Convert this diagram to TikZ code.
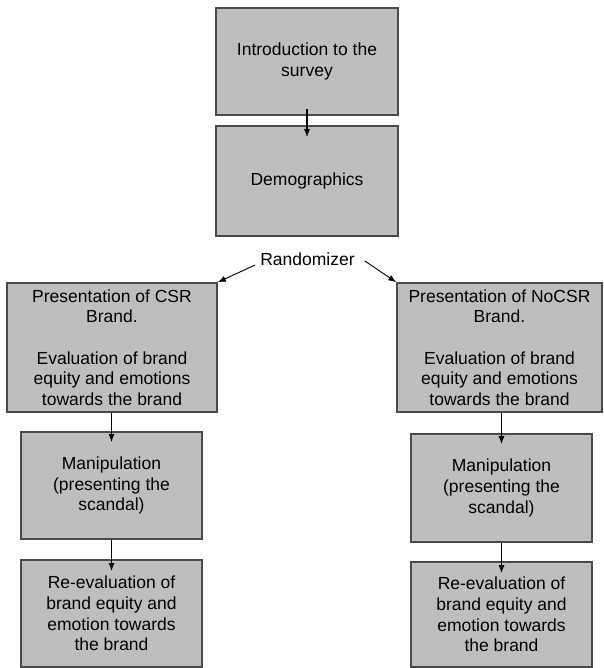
\documentclass[tikz,border=0pt]{standalone}
\usepackage{fontspec}
\setmainfont{Liberation Sans}
\usetikzlibrary{arrows.meta}
\definecolor{boxgray}{HTML}{BEBEBE}
\definecolor{edgegray}{HTML}{4A4A4A}
\begin{document}
\begin{tikzpicture}[x=1pt,y=1pt,
		stage/.style={rectangle,draw=edgegray,line width=1.6pt,fill=boxgray,align=center,inner sep=0pt,font=\fontsize{17.5}{20.7}\selectfont},
		flow/.style={-{Latex[length=8pt,width=6pt]},line width=1.2pt}]
		\useasboundingbox (0,0) rectangle (603,-668);
		\node[stage,minimum width=182pt,minimum height=107pt] (intro) at (307,-61.5) {Introduction to the\\survey};
		\node[stage,minimum width=182pt,minimum height=110pt] (demo) at (307,-181) {Demographics};
		\node[inner sep=0pt,font=\fontsize{17.5}{20.7}\selectfont] (rand) at (307.5,-259) {Randomizer};
		\node[stage,minimum width=210pt,minimum height=129pt] (csr) at (112,-347.5) {Presentation of CSR\\Brand.\\[20.7pt]Evaluation of brand\\equity and emotions\\towards the brand};
		\node[stage,minimum width=205pt,minimum height=129pt] (nocsr) at (499.5,-347.5) {Presentation of NoCSR\\Brand.\\[20.7pt]Evaluation of brand\\equity and emotions\\towards the brand};
		\node[stage,minimum width=181pt,minimum height=107pt] (lmanip) at (111.5,-485.5) {Manipulation\\(presenting the\\scandal)};
		\node[stage,minimum width=181pt,minimum height=108pt] (rmanip) at (501.5,-488) {Manipulation\\(presenting the\\scandal)};
		\node[stage,minimum width=181pt,minimum height=107pt] (lreeval) at (111.5,-613.5) {Re-evaluation of\\brand equity and\\emotion towards\\the brand};
		\node[stage,minimum width=181pt,minimum height=105pt] (rreeval) at (501.5,-614.5) {Re-evaluation of\\brand equity and\\emotion towards\\the brand};
		% connectors
		\draw[flow] ([yshift=7pt]intro.south) -- ([yshift=-12pt]demo.north);
		\draw[flow,line width=0.9pt] ([xshift=-5pt,yshift=-6pt]rand.west) -- (csr.north east);
		\draw[flow,line width=0.9pt] ([xshift=10pt,yshift=-2pt]rand.east) -- (nocsr.north west);
		\draw[flow] (csr.south -| lmanip.north) -- ([yshift=-11pt]lmanip.north);
		\draw[flow] (lmanip.south) -- ([yshift=-12pt]lreeval.north);
		\draw[flow] (nocsr.south -| rmanip.north) -- ([yshift=-11pt]rmanip.north);
		\draw[flow] (rmanip.south) -- ([yshift=-12pt]rreeval.north);
	\end{tikzpicture}
\end{document}
